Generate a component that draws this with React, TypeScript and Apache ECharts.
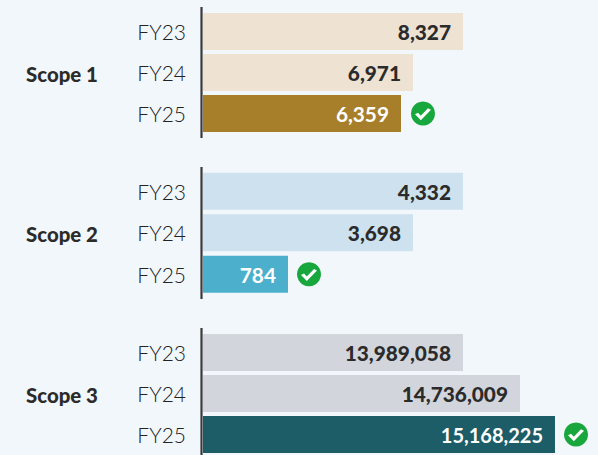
import React, { useEffect, useRef } from "react";
import * as echarts from "echarts";

const years = ["FY23", "FY24", "FY25"];
const scopes = ["Scope 1", "Scope 2", "Scope 3"];
// Printed figures, as the reference labels them.
const scope1Labels = ["8,327", "6,971", "6,359"];
const scope2Labels = ["4,332", "3,698", "784"];
const scope3Labels = ["13,989,058", "14,736,009", "15,168,225"];
// Bar lengths: the reference's bars are not proportional to the printed figures.
const scope1Lengths = [260, 210, 198];
const scope2Lengths = [260, 210, 85];
const scope3Lengths = [260, 317, 352];
const labels = [scope1Labels, scope2Labels, scope3Labels];
const lengths = [scope1Lengths, scope2Lengths, scope3Lengths];
const paleColors = ["#eee2d3", "#cde2ee", "#d2d6dc"];
const strongColors = ["#a77f2b", "#4cafcb", "#1c5d68"];
const gridTops = [11, 170.5, 332];
const gridHeights = [123, 124.5, 123];
const axisSpans = [[7, 138], [167, 299], [328, 455]];
const checkOffsets = [22, 21, 21];

const FONT = "Lato";
const TEXT = "#2b2b2b";
const CHECK = "path://M1 6.5 L5 10.5 L13 2.5";

export default function App() {
  const ref = useRef<HTMLDivElement>(null);
  useEffect(() => {
    const chart = echarts.init(ref.current!, null, { renderer: "svg" });
    const ids = [0, 1, 2];
    const series: any[] = [];
    ids.forEach((i) => {
      series.push({
        type: "bar",
        xAxisIndex: i,
        yAxisIndex: i,
        barWidth: 37,
        silent: true,
        data: lengths[i].map((v, k) => ({
          value: v,
          itemStyle: { color: k === 2 ? strongColors[i] : paleColors[i] },
          label: k === 2
            ? { color: "#ffffff", fontWeight: 700, fontSize: i === 2 ? 20 : 20.8 }
            : { color: TEXT },
        })),
        label: {
          show: true,
          position: "insideRight",
          distance: 12,
          fontFamily: FONT,
          fontWeight: 900,
          fontSize: 20.8,
          formatter: (p: any) => labels[i][p.dataIndex],
        },
      });
      const last = lengths[i][2];
      series.push({
        type: "scatter",
        xAxisIndex: i,
        yAxisIndex: i,
        silent: true,
        symbol: "circle",
        symbolSize: 24,
        symbolOffset: [checkOffsets[i], 0],
        itemStyle: { color: "#17a73d", opacity: 1 },
        data: [[last, years[2]]],
      });
      series.push({
        type: "scatter",
        xAxisIndex: i,
        yAxisIndex: i,
        silent: true,
        symbol: CHECK,
        symbolSize: [13, 9],
        symbolOffset: [checkOffsets[i], 0],
        itemStyle: { color: "transparent", borderColor: "#ffffff", borderWidth: 3, opacity: 1 },
        data: [[last, years[2]]],
      });
    });
    chart.setOption({
      animation: false,
      backgroundColor: "#f2f7fb",
      grid: ids.map((i) => ({ left: 203, width: 395, top: gridTops[i], height: gridHeights[i] })),
      xAxis: ids.map((i) => ({ type: "value", gridIndex: i, min: 0, max: 395, show: false })),
      yAxis: ids.map((i) => ({
        type: "category",
        gridIndex: i,
        inverse: true,
        data: years,
        axisLine: { show: false },
        axisTick: { show: false },
        axisLabel: { color: "#222222", fontFamily: FONT, fontWeight: 300, fontSize: 21, margin: 17 },
      })),
      series,
      graphic: ids.flatMap((i) => [
        {
          type: "line",
          silent: true,
          shape: { x1: 201.5, y1: axisSpans[i][0], x2: 201.5, y2: axisSpans[i][1] },
          style: { stroke: "#3a3a3a", lineWidth: 2.2 },
        },
        {
          type: "text",
          silent: true,
          x: 26,
          y: gridTops[i] + gridHeights[i] / 2 + 1,
          style: {
            text: scopes[i],
            fill: TEXT,
            font: `900 20.4px ${FONT}`,
            verticalAlign: "middle",
          },
        },
      ]),
    });
    return () => chart.dispose();
  }, []);
  return <div ref={ref} style={{ position: "fixed", left: 0, top: 0, width: 598, height: 455 }} />;
}
